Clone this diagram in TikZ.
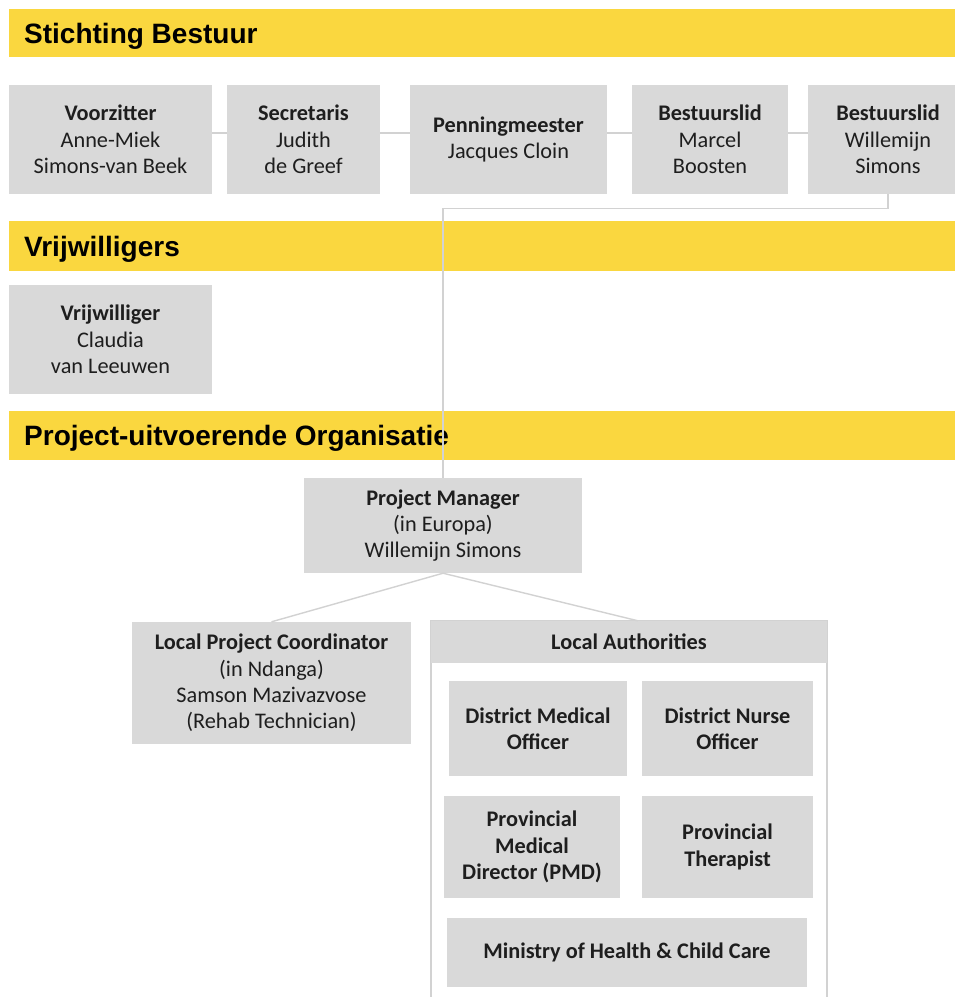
\documentclass[tikz,border=0pt]{standalone}
\usepackage{fontspec}
\setmainfont{Carlito}
\newfontfamily\headfont{Liberation Sans}
\definecolor{banner}{RGB}{250,215,63}
\definecolor{boxgray}{RGB}{217,217,217}
\definecolor{linegray}{RGB}{210,210,210}
\definecolor{txt}{RGB}{30,30,30}
\tikzset{
  bannertext/.style={anchor=base west, inner sep=0pt, font=\headfont\bfseries\fontsize{28}{32}\selectfont, text=black},
  orgbox/.style={fill=boxgray, draw=none, inner sep=0pt, align=center, text=txt, font=\fontsize{22.3}{26.3}\selectfont},
  innerbox/.style={orgbox, font=\bfseries\fontsize{22.3}{26.3}\selectfont},
  conn/.style={draw=linegray, line width=1.4pt},
}
\begin{document}
\begin{tikzpicture}[x=1pt,y=-1pt]
\clip (0,0) rectangle (955,997);
\fill[white] (0,0) rectangle (955,997);
% banners
\fill[banner] (9,9) rectangle (960,57);
\node[bannertext] (t1) at (24,43) {Stichting Bestuur};
\fill[banner] (9,221) rectangle (960,271);
\node[bannertext] (t2) at (24,256) {Vrijwilligers};
\fill[banner] (9,411) rectangle (960,460);
\node[bannertext] (t3) at (24,445.5) {Project-uitvoerende Organisatie};
% board
\node[orgbox, minimum width=203pt, minimum height=109pt] (b1) at (110.5,139.5) {\textbf{Voorzitter}\\Anne-Miek\\Simons-van Beek};
\node[orgbox, minimum width=153pt, minimum height=109pt] (b2) at (303.5,139.5) {\textbf{Secretaris}\\Judith\\de Greef};
\node[orgbox, minimum width=197pt, minimum height=109pt] (b3) at (508.5,139.5) {\textbf{Penningmeester}\\Jacques Cloin};
\node[orgbox, minimum width=156pt, minimum height=109pt] (b4) at (710,139.5) {\textbf{Bestuurslid}\\Marcel\\Boosten};
\node[orgbox, minimum width=160pt, minimum height=109pt] (b5) at (888,139.5) {\textbf{Bestuurslid}\\Willemijn\\Simons};
\draw[conn] ([yshift=6.5pt]b1.east) -- ([yshift=6.5pt]b2.west);
\draw[conn] ([yshift=6.5pt]b2.east) -- ([yshift=6.5pt]b3.west);
\draw[conn] ([yshift=6.5pt]b3.east) -- ([yshift=6.5pt]b4.west);
\draw[conn] ([yshift=6.5pt]b4.east) -- ([yshift=6.5pt]b5.west);
% volunteer
\node[orgbox, minimum width=203pt, minimum height=109pt] (v1) at (110.5,339.5) {\textbf{Vrijwilliger}\\Claudia\\van Leeuwen};
% project
\node[orgbox, minimum width=278pt, minimum height=95pt] (pm) at (443,525.5) {\textbf{Project Manager}\\(in Europa)\\Willemijn Simons};
\draw[conn] (b5.south) -- ++(0,14) -| (pm.north);
\node[orgbox, minimum width=279pt, minimum height=122pt] (lpc) at (271.5,683) {\textbf{Local Project Coordinator}\\(in Ndanga)\\Samson Mazivazvose\\(Rehab Technician)};
% local authorities container
\draw[draw=linegray, line width=1.4pt] (431,621) rectangle (827,1010);
\node[orgbox, minimum width=396pt, minimum height=42pt] (la) at (629,642) {\textbf{Local Authorities}};
\draw[conn] (pm.south) -- (lpc.north);
\draw[conn] (pm.south) -- ([xshift=9pt]la.north);
\node[innerbox, minimum width=178pt, minimum height=95pt] (dmo) at (538,728.5) {District Medical\\Officer};
\node[innerbox, minimum width=171pt, minimum height=95pt] (dno) at (727.5,728.5) {District Nurse\\Officer};
\node[innerbox, minimum width=176pt, minimum height=102pt] (pmd) at (532,847) {Provincial\\Medical\\Director (PMD)};
\node[innerbox, minimum width=171pt, minimum height=102pt] (pt) at (727.5,847) {Provincial\\Therapist};
\node[innerbox, minimum width=360pt, minimum height=69pt] (moh) at (627,952.5) {Ministry of Health \& Child Care};
\end{tikzpicture}
\end{document}
